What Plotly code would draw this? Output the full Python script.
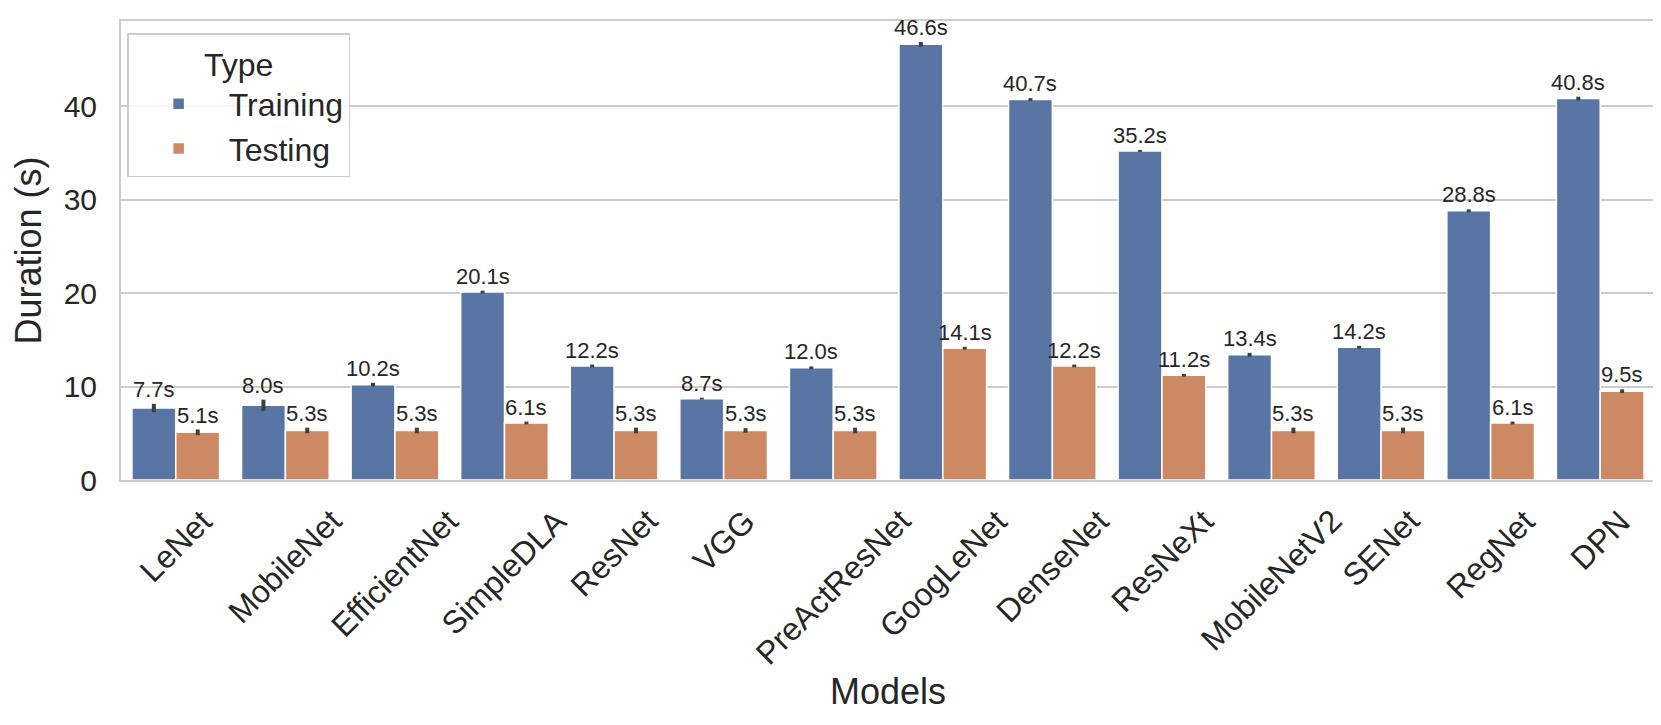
import plotly.graph_objects as go
import numpy as np

models = ["LeNet", "MobileNet", "EfficientNet", "SimpleDLA", "ResNet", "VGG",
          "PreActResNet", "GoogLeNet", "DenseNet", "ResNeXt", "MobileNetV2",
          "SENet", "RegNet", "DPN"]
training = [7.7, 8.0, 10.2, 20.1, 12.2, 8.7, 12.0, 46.6, 40.7, 35.2, 13.4, 14.2, 28.8, 40.8]
testing = [5.1, 5.3, 5.3, 6.1, 5.3, 5.3, 5.3, 14.1, 12.2, 11.2, 5.3, 5.3, 6.1, 9.5]
training_err = [0.45, 0.6, 0.2, 0.15, 0.15, 0.1, 0.15, 0.25, 0.15, 0.1, 0.2, 0.15, 0.15, 0.2]
testing_err = [0.3, 0.3, 0.3, 0.15, 0.3, 0.25, 0.3, 0.15, 0.15, 0.15, 0.3, 0.3, 0.15, 0.2]
yticks = [0, 10, 20, 30, 40]

FONT = "Liberation Sans, Arial, sans-serif"
TXT = "#262626"
BLUE = "#5975a4"
ORANGE = "#cc8963"
ERRC = "#3f3f3f"

idx = np.arange(len(models))
fig = go.Figure()
for name, vals, errs, col, off in [("Training", training, training_err, BLUE, -0.2),
                                    ("Testing", testing, testing_err, ORANGE, 0.2)]:
    fig.add_trace(go.Bar(
        x=idx + off, y=vals, width=0.4, name=name,
        marker=dict(color=col, line=dict(color="white", width=1.5)),
        error_y=dict(type="data", array=errs, visible=True, thickness=4, width=0, color=ERRC),
    ))
    for xi, v, e in zip(idx + off, vals, errs):
        fig.add_annotation(x=xi, y=v + e, text=f"{v:.1f}s", showarrow=False,
                           xanchor="center", yanchor="bottom", yshift=0,
                           font=dict(family=FONT, size=22, color=TXT))

# rotated category labels centred under each group (matplotlib style)
for i, m in enumerate(models):
    fig.add_annotation(x=i, y=0, yref="y", text=m, showarrow=False, textangle=-45,
                       xanchor="center", yanchor="top", yshift=-20,
                       font=dict(family=FONT, size=32, color=TXT))

fig.update_layout(
    width=1661, height=725,
    margin=dict(l=113, r=14, t=13, b=253),
    paper_bgcolor="white", plot_bgcolor="white",
    font=dict(family=FONT, color=TXT),
    barmode="overlay",
    legend=dict(
        title=dict(text="Type", side="top center", font=dict(family=FONT, size=32, color=TXT)),
        font=dict(family=FONT, size=32, color=TXT),
        itemwidth=90,
        x=0.004, y=0.973, xanchor="left", yanchor="top",
        bordercolor="#cccccc", borderwidth=1.5, bgcolor="rgba(255,255,255,0.85)",
    ),
    xaxis=dict(
        range=[-0.5, len(models) - 0.5], showgrid=False, zeroline=False,
        showticklabels=False, ticks="",
        showline=True, mirror=True, linecolor="#cccccc", linewidth=2,
        title=dict(text="Models", font=dict(family=FONT, size=36, color=TXT), standoff=198),
    ),
    yaxis=dict(
        range=[0, 49.1], tickvals=yticks, ticktext=[str(t) for t in yticks],
        showgrid=True, gridcolor="#cccccc", gridwidth=1.5, zeroline=False,
        showline=True, mirror=True, linecolor="#cccccc", linewidth=2,
        ticks="outside", ticklen=16, tickcolor="rgba(0,0,0,0)",
        tickfont=dict(family=FONT, size=30, color=TXT),
        title=dict(text="Duration (s)", font=dict(family=FONT, size=36, color=TXT), standoff=12),
    ),
)

fig.write_html("out.html")
